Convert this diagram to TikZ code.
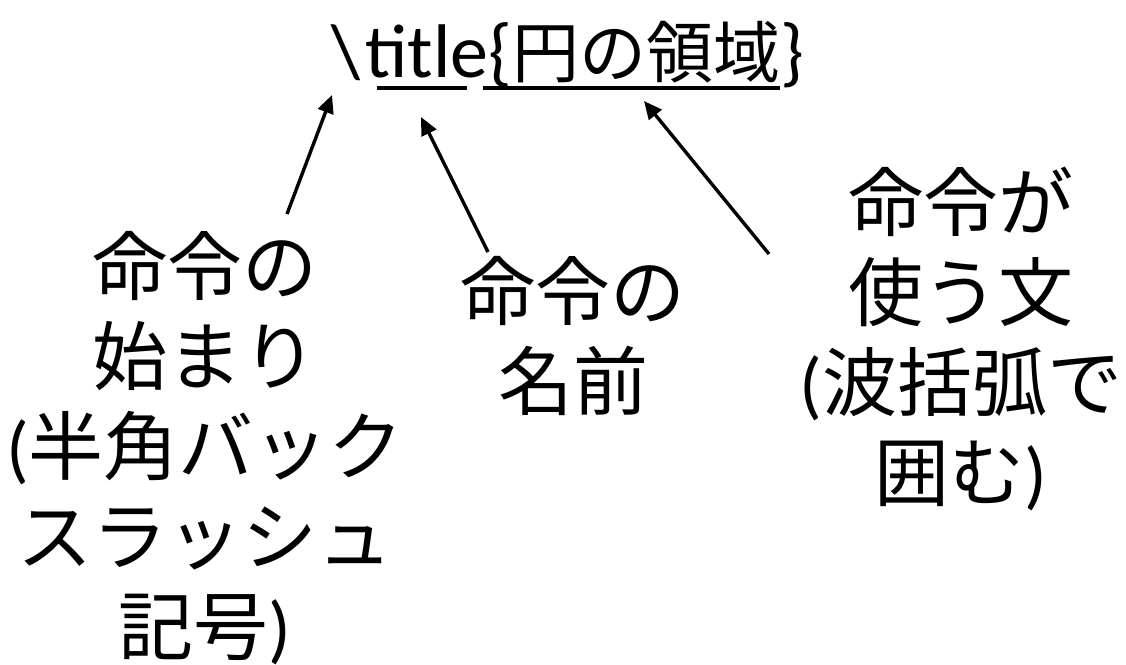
\documentclass[tikz,border=0pt]{standalone}
\usepackage{fontspec}
\setmainfont{Carlito}
\newfontfamily\jpt{Noto Sans CJK JP}
\newcommand{\J}[1]{{\jpt #1}}
\usetikzlibrary{arrows.meta}
\begin{document}
\begin{tikzpicture}[x=1pt,y=-1pt,
  lbl/.style={align=center, inner sep=0pt, anchor=base, font=\fontsize{75}{90}\selectfont},
  ttl/.style={inner sep=0pt, anchor=base west, font=\fontsize{76}{90}\selectfont},
  arr/.style={line width=3.4pt, -{Triangle[length=18pt,width=16pt]}},
  uline/.style={line width=3.6pt}]
\useasboundingbox (0,0) rectangle (1126,664);
\node[ttl] (title) at (331,77) {\textbackslash\kern5pt title\{{\jpt\fontsize{67}{90}\selectfont 円の領域}\}};
\draw[uline] (377,88) -- (467,88);
\draw[uline] (483,88) -- (780,88);
\node[lbl] (start) at (205,654) {\J{命令の}\\\J{始まり}\\(\J{半角バック}\\\J{スラッシュ}\\\J{記号})};
\node[lbl] (name) at (573,409) {\J{命令の}\\\J{名前}};
\node[lbl] (arg) at (961,500) {\J{命令が}\\\J{使う文}\\(\J{波括弧で}\\\J{囲む})};
\coordinate (h1) at (332,95);
\coordinate (t1) at (287,214);
\coordinate (h2) at (421,117);
\coordinate (t2) at (488,252);
\coordinate (h3) at (644,101);
\coordinate (t3) at (769,254);
\draw[arr] (t1) -- (h1);
\draw[arr] (t2) -- (h2);
\draw[arr] (t3) -- (h3);
\end{tikzpicture}
\end{document}
